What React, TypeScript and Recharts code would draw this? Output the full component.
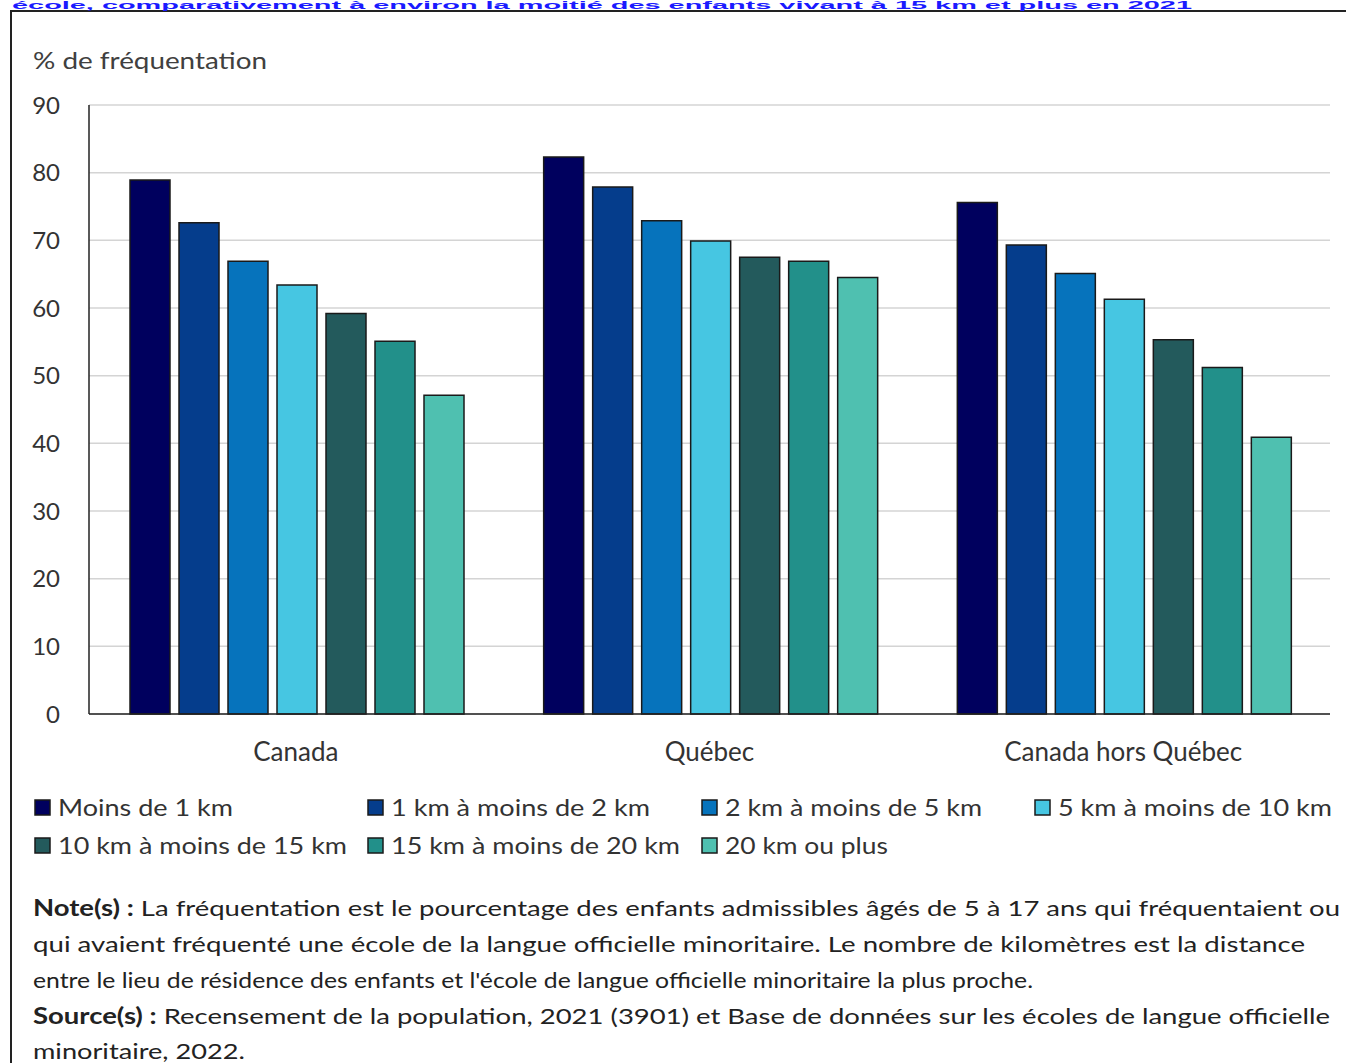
import React from 'react';
import { BarChart, Bar, XAxis, YAxis, CartesianGrid } from 'recharts';

const categories = ['Canada', 'Québec', 'Canada hors Québec'];
const seriesNames = [
  'Moins de 1 km',
  '1 km à moins de 2 km',
  '2 km à moins de 5 km',
  '5 km à moins de 10 km',
  '10 km à moins de 15 km',
  '15 km à moins de 20 km',
  '20 km ou plus',
];
const seriesColors = ['#00005e', '#053d8c', '#0673bc', '#46c6e2', '#235a5c', '#22908a', '#4fc0b0'];
const moins1 = [78.9, 82.3, 75.6];
const de1a2 = [72.6, 77.9, 69.3];
const de2a5 = [66.9, 72.9, 65.1];
const de5a10 = [63.4, 69.9, 61.3];
const de10a15 = [59.2, 67.5, 55.3];
const de15a20 = [55.1, 66.9, 51.2];
const plus20 = [47.1, 64.5, 40.9];
const seriesValues = [moins1, de1a2, de2a5, de5a10, de10a15, de15a20, plus20];
const yTicks = [0, 10, 20, 30, 40, 50, 60, 70, 80, 90];

const titleText = 'école, comparativement à environ la moitié des enfants vivant à 15 km et plus en 2021';
const yLabel = '% de fréquentation';

const data = categories.map((c, i) => {
  const row: Record<string, string | number> = { category: c };
  seriesValues.forEach((vals, k) => {
    row['s' + k] = vals[i];
  });
  return row;
});

const FONT = 'Lato, "Open Sans", sans-serif';

// legend layout: [x of square, y center, text width]
const legendPos = [
  [35, 808, 175],
  [368, 808, 259],
  [702, 808, 257],
  [1035, 808, 274],
  [35, 846, 289],
  [368, 846, 289],
  [702, 846, 163],
];

export default function App() {
  return (
    <div style={{ position: 'absolute', left: 0, top: 0, width: 1346, height: 1063, overflow: 'hidden', background: '#fff' }}>
      <div
        style={{
          position: 'absolute',
          left: 10,
          top: 10,
          width: 1400,
          height: 1100,
          borderTop: '2px solid #222',
          borderLeft: '2px solid #222',
          boxSizing: 'border-box',
        }}
      />
      <div style={{ position: 'absolute', left: 0, top: 0 }}>
        <BarChart
          width={1346}
          height={780}
          data={data}
          margin={{ top: 105, right: 16, left: 29, bottom: 16 }}
          barCategoryGap={41}
          barGap={9}
        >
          <CartesianGrid vertical={false} stroke="#d4d4d4" strokeWidth={1.5} />
          <XAxis
            dataKey="category"
            axisLine={{ stroke: '#222', strokeWidth: 1.5 }}
            tickLine={false}
            tickSize={0}
            tickMargin={29}
            height={50}
            tick={{ fontSize: 26, fill: '#333', fontFamily: FONT }}
          />
          <XAxis
            xAxisId="top"
            orientation="top"
            dataKey="category"
            axisLine={{ stroke: '#222', strokeWidth: 1.5 }}
            tick={false}
            tickLine={false}
            height={0}
          />
          <YAxis
            domain={[0, 90]}
            ticks={yTicks}
            width={60}
            axisLine={{ stroke: '#222', strokeWidth: 1.5 }}
            tickLine={false}
            tickSize={0}
            tickMargin={29}
            tick={{ fontSize: 24, fill: '#333', fontFamily: FONT }}
          />
          <YAxis
            yAxisId="right"
            orientation="right"
            domain={[0, 90]}
            width={0}
            axisLine={{ stroke: '#222', strokeWidth: 1.5 }}
            tick={false}
            tickLine={false}
          />
          {seriesNames.map((name, k) => (
            <Bar
              key={name}
              dataKey={'s' + k}
              name={name}
              fill={seriesColors[k]}
              stroke="#1a1a1a"
              strokeWidth={1.5}
              isAnimationActive={false}
            />
          ))}
        </BarChart>
      </div>
      <svg
        width={1346}
        height={1063}
        style={{ position: 'absolute', left: 0, top: 0, pointerEvents: 'none' }}
        fontFamily={FONT}
      >
        <text
          x={12}
          y={9}
          fill="#1a1aff"
          fontSize={11}
          fontWeight="bold"
          fontFamily='"Liberation Sans", Arial, sans-serif'
          textLength={1180}
          lengthAdjust="spacingAndGlyphs"
        >
          {titleText}
        </text>
        <text x={33} y={69} fill="#404040" fontSize={23} textLength={234} lengthAdjust="spacingAndGlyphs">
          {yLabel}
        </text>
        {seriesNames.map((name, k) => {
          const [x, y, w] = legendPos[k];
          return (
            <g key={name}>
              <rect x={x} y={y - 8} width={15} height={15} fill={seriesColors[k]} stroke="#1a1a1a" strokeWidth={1.5} />
              <text x={x + 23} y={y + 8} fill="#333" fontSize={23} textLength={w} lengthAdjust="spacingAndGlyphs">
                {name}
              </text>
            </g>
          );
        })}
        <text x={33} y={916} fill="#222" fontSize={22} textLength={1307} lengthAdjust="spacingAndGlyphs">
          <tspan fontWeight="bold">Note(s) :</tspan>
          <tspan> La fréquentation est le pourcentage des enfants admissibles âgés de 5 à 17 ans qui fréquentaient ou</tspan>
        </text>
        <text x={33} y={952} fill="#222" fontSize={22} textLength={1272} lengthAdjust="spacingAndGlyphs">
          qui avaient fréquenté une école de la langue officielle minoritaire. Le nombre de kilomètres est la distance
        </text>
        <text x={33} y={988} fill="#222" fontSize={22} textLength={1000} lengthAdjust="spacingAndGlyphs">
          entre le lieu de résidence des enfants et l'école de langue officielle minoritaire la plus proche.
        </text>
        <text x={33} y={1024} fill="#222" fontSize={22} textLength={1297} lengthAdjust="spacingAndGlyphs">
          <tspan fontWeight="bold">Source(s) :</tspan>
          <tspan> Recensement de la population, 2021 (3901) et Base de données sur les écoles de langue officielle</tspan>
        </text>
        <text x={33} y={1059} fill="#222" fontSize={22} textLength={212} lengthAdjust="spacingAndGlyphs">
          minoritaire, 2022.
        </text>
      </svg>
    </div>
  );
}
